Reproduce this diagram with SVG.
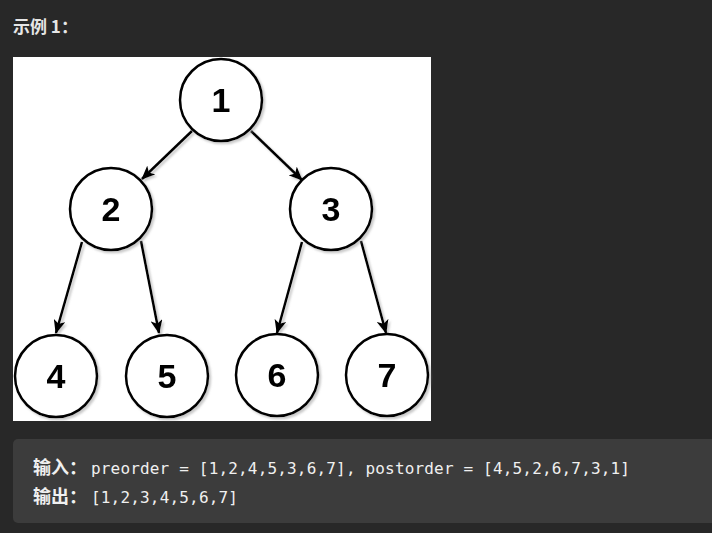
<svg xmlns="http://www.w3.org/2000/svg" width="712" height="533" viewBox="0 0 712 533">
<defs>
<style>
.node circle{fill:#fff;stroke:#000;stroke-width:2.5}
.node text{font-family:"Liberation Sans",Arial,sans-serif;font-weight:bold;font-size:34px;fill:#000;text-anchor:middle}
.edge{stroke:#000;stroke-width:2.5;fill:none;marker-end:url(#arr)}
.cn{font-family:"Noto Sans CJK SC","Liberation Sans",sans-serif;font-weight:bold;font-size:18px;fill:#f0f0f0}
.code{font-family:"DejaVu Sans Mono","Liberation Mono",monospace;font-size:16px;fill:#f0f0f0}
</style>
<marker id="arr" viewBox="0 0 14 12" refX="13" refY="6" markerWidth="14" markerHeight="12" markerUnits="userSpaceOnUse" orient="auto">
<path d="M0,0 L14,6 L0,12 L3.5,6 z" fill="#000"/>
</marker>
<filter id="sh" x="-10%" y="-10%" width="130%" height="130%">
<feDropShadow dx="2" dy="2" stdDeviation="1" flood-color="#888" flood-opacity="0.45"/>
</filter>
</defs>
<rect width="712" height="533" fill="#282828"/>
<text x="13" y="33" class="cn" style="fill:#e6e6e6;font-size:17px">示例 1：</text>
<rect x="13" y="57" width="418" height="364" fill="#fff"/>
<g id="connectors" filter="url(#sh)">
<line class="edge" x1="192" y1="131" x2="142" y2="179"/>
<line class="edge" x1="251" y1="131" x2="302" y2="180"/>
<line class="edge" x1="82" y1="242" x2="56" y2="333"/>
<line class="edge" x1="141" y1="241" x2="159" y2="333"/>
<line class="edge" x1="302" y1="242" x2="277" y2="333"/>
<line class="edge" x1="361" y1="241" x2="386" y2="333"/>
</g>
<g id="node1" class="node" filter="url(#sh)"><circle cx="221" cy="100" r="41"/><text x="221" y="112">1</text></g>
<g id="node2" class="node" filter="url(#sh)"><circle cx="111" cy="209" r="41"/><text x="111" y="221">2</text></g>
<g id="node3" class="node" filter="url(#sh)"><circle cx="331" cy="209" r="41"/><text x="331" y="221">3</text></g>
<g id="node4" class="node" filter="url(#sh)"><circle cx="56" cy="376" r="41"/><text x="56" y="388">4</text></g>
<g id="node5" class="node" filter="url(#sh)"><circle cx="167" cy="376" r="41"/><text x="167" y="388">5</text></g>
<g id="node6" class="node" filter="url(#sh)"><circle cx="277" cy="375" r="41"/><text x="277" y="387">6</text></g>
<g id="node7" class="node" filter="url(#sh)"><circle cx="387" cy="375" r="41"/><text x="387" y="387">7</text></g>
<rect x="13" y="439" width="710" height="84" rx="5" fill="#3c3c3c"/>
<text x="33" y="474" class="cn">输入：</text>
<text x="91" y="474" class="code" textLength="539" lengthAdjust="spacing">preorder = [1,2,4,5,3,6,7], postorder = [4,5,2,6,7,3,1]</text>
<text x="33" y="503" class="cn">输出：</text>
<text x="91" y="503" class="code" textLength="147" lengthAdjust="spacing">[1,2,3,4,5,6,7]</text>
</svg>
